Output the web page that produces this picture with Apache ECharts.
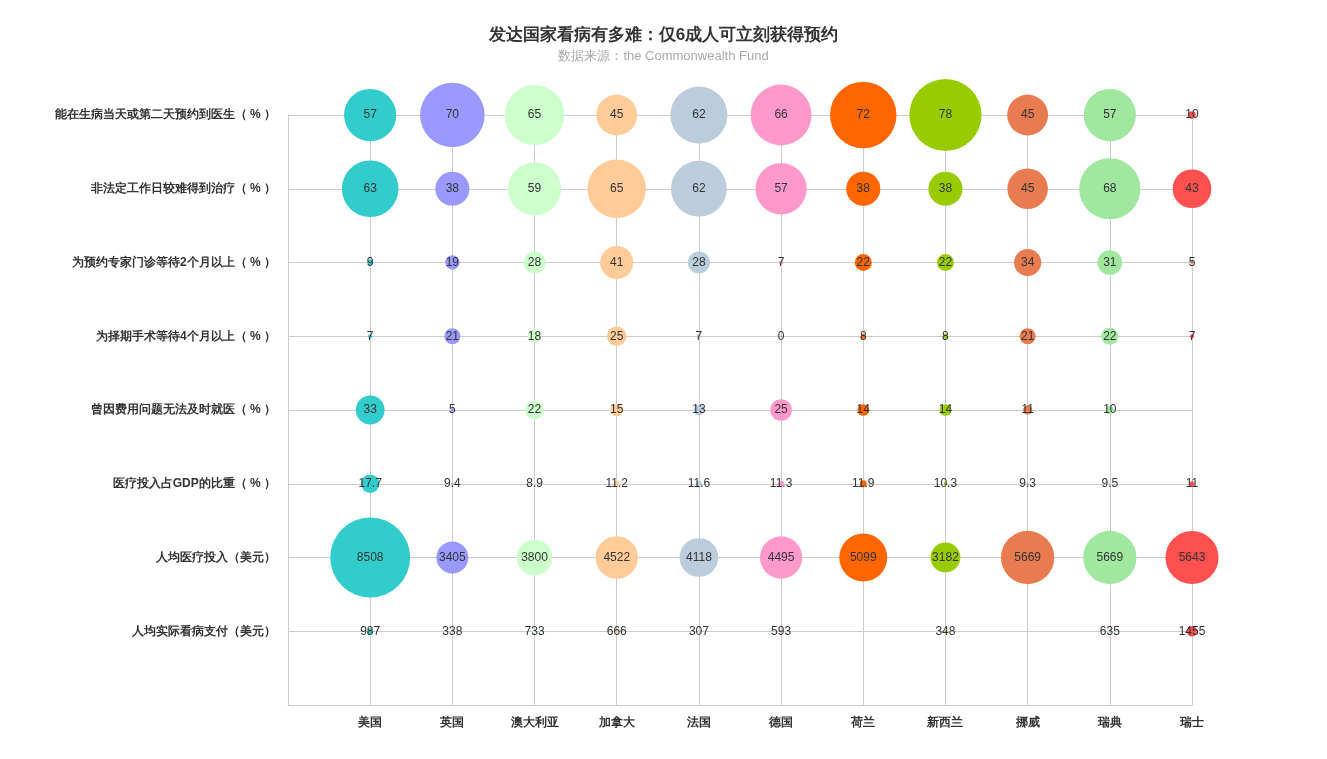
<!DOCTYPE html>
<html>
<head>
<meta charset="utf-8" />
<title>发达国家看病有多难</title>
<script src="https://cdn.jsdelivr.net/npm/echarts@6/dist/echarts.min.js"></script>
<style>
  html,body{margin:0;padding:0;background:#fff;}
  #main{width:1327px;height:759px;}
</style>
</head>
<body>
<div id="main"></div>
<script>
var countries = ['美国','英国','澳大利亚','加拿大','法国','德国','荷兰','新西兰','挪威','瑞典','瑞士'];
var indicators = ['能在生病当天或第二天预约到医生（ % ）','非法定工作日较难得到治疗（ % ）','为预约专家门诊等待2个月以上（ % ）','为择期手术等待4个月以上（ % ）','曾因费用问题无法及时就医（ % ）','医疗投入占GDP的比重（ % ）','人均医疗投入（美元）','人均实际看病支付（美元）'];
var colors = ['#33cccc','#9999ff','#ccffcc','#ffcc99','#bbccdd','#ff99cc','#ff6600','#99cc00','#e97b50','#a0e8a0','#ff5050'];

// one row per indicator, null = no data
var row1 = [57,70,65,45,62,66,72,78,45,57,10];
var row2 = [63,38,59,65,62,57,38,38,45,68,43];
var row3 = [9,19,28,41,28,7,22,22,34,31,5];
var row4 = [7,21,18,25,7,0,8,8,21,22,7];
var row5 = [33,5,22,15,13,25,14,14,11,10,null];
var row6 = [17.7,9.4,8.9,11.2,11.6,11.3,11.9,10.3,9.3,9.5,11];
var row7 = [8508,3405,3800,4522,4118,4495,5099,3182,5669,5669,5643];
var row8 = [987,338,733,666,307,593,null,348,null,635,1455];
var rows = [row1,row2,row3,row4,row5,row6,row7,row8];

// bubble diameter = k * (value - off), per row (styling)
var sizeK = [0.95,0.9,0.85,0.85,0.9,2.0,0.0094,0.009];
var sizeOff = [2,0,2,2,1,8.5,0,300];

var series = [];
for (var c = 0; c < countries.length; c++) {
  var data = [];
  for (var r = 0; r < rows.length; r++) {
    var v = rows[r][c];
    if (v === null) continue;
    var size = Math.max(2, sizeK[r] * (v - sizeOff[r]));
    data.push({value:[countries[c], indicators[r], v], symbolSize:size});
  }
  series.push({
    name: countries[c],
    type: 'scatter',
    itemStyle: {color: colors[c], opacity: 1},
    label: {show:true, position:'inside', color:'#333', fontSize:12,
      formatter: function(p){return p.value[2];}},
    data: data
  });
}

var chart = echarts.init(document.getElementById('main'));
chart.setOption({
  animation:false,
  title:{text:'发达国家看病有多难：仅6成人可立刻获得预约', subtext:'数据来源：the Commonwealth Fund',
    left:'center', top:22, itemGap:6,
    textStyle:{fontSize:17,fontWeight:'bold',color:'#333'},
    subtextStyle:{fontSize:13,color:'#aaa'}},
  grid:{left:288,right:135,top:115,bottom:54},
  xAxis:{type:'category', boundaryGap:false, data:[''].concat(countries),
    axisLine:{lineStyle:{color:'#ccc'}}, axisTick:{show:false},
    axisLabel:{color:'#333',fontWeight:'bold',fontSize:12,margin:12},
    splitLine:{show:true,lineStyle:{color:'#ccc'}}},
  yAxis:{type:'category', boundaryGap:false, inverse:true, data:indicators.concat(['']),
    axisLine:{lineStyle:{color:'#ccc'}}, axisTick:{show:false},
    axisLabel:{color:'#333',fontWeight:'bold',fontSize:12,margin:12},
    splitLine:{show:true,lineStyle:{color:'#ccc'}}},
  series: series
});
</script>
</body>
</html>
